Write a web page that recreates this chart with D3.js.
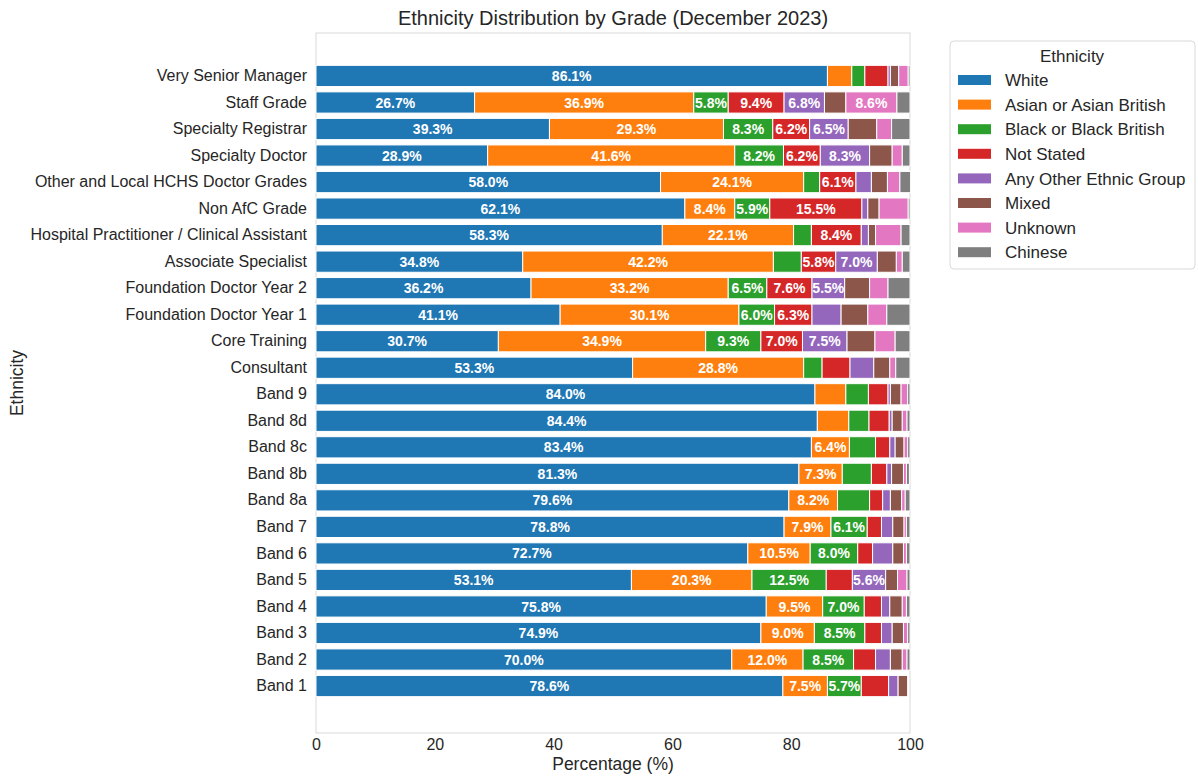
<!DOCTYPE html>
<html>
<head>
<meta charset="utf-8">
<script src="https://cdn.jsdelivr.net/npm/d3@7"></script>
<style>
  body { margin: 0; background: #fff; }
  text { font-family: "Liberation Sans", Arial, sans-serif; }
</style>
</head>
<body>
<div id="chart"></div>
<script>
// grades, top to bottom
var grades = ["Very Senior Manager", "Staff Grade", "Specialty Registrar", "Specialty Doctor",
  "Other and Local HCHS Doctor Grades", "Non AfC Grade", "Hospital Practitioner / Clinical Assistant",
  "Associate Specialist", "Foundation Doctor Year 2", "Foundation Doctor Year 1", "Core Training",
  "Consultant", "Band 9", "Band 8d", "Band 8c", "Band 8b", "Band 8a", "Band 7", "Band 6",
  "Band 5", "Band 4", "Band 3", "Band 2", "Band 1"];

var ethnicities = ["White", "Asian or Asian British", "Black or Black British", "Not Stated",
  "Any Other Ethnic Group", "Mixed", "Unknown", "Chinese"];

var colors = ["#1f77b4", "#ff7f0e", "#2ca02c", "#d62728", "#9467bd", "#8c564b", "#e377c2", "#7f7f7f"];

// percentages per ethnicity, in the same order as grades
var white    = [86.1, 26.7, 39.3, 28.9, 58.0, 62.1, 58.3, 34.8, 36.2, 41.1, 30.7, 53.3, 84.0, 84.4, 83.4, 81.3, 79.6, 78.8, 72.7, 53.1, 75.8, 74.9, 70.0, 78.6];
var asian    = [4.1, 36.9, 29.3, 41.6, 24.1, 8.4, 22.1, 42.2, 33.2, 30.1, 34.9, 28.8, 5.2, 5.3, 6.4, 7.3, 8.2, 7.9, 10.5, 20.3, 9.5, 9.0, 12.0, 7.5];
var black    = [2.2, 5.8, 8.3, 8.2, 2.7, 5.9, 3.0, 4.7, 6.5, 6.0, 9.3, 3.1, 3.8, 3.4, 4.4, 4.9, 5.4, 6.1, 8.0, 12.5, 7.0, 8.5, 8.5, 5.7];
var notStated= [3.9, 9.4, 6.2, 6.2, 6.1, 15.5, 8.4, 5.8, 7.6, 6.3, 7.0, 4.7, 3.3, 3.4, 2.4, 2.6, 2.2, 2.4, 2.5, 4.4, 2.9, 2.8, 3.7, 4.6];
var other    = [0.4, 6.8, 6.5, 8.3, 2.6, 1.0, 1.2, 7.0, 5.5, 4.9, 7.5, 4.0, 0.4, 0.5, 0.9, 0.8, 1.3, 1.9, 3.4, 5.6, 1.4, 1.8, 2.5, 1.6];
var mixed    = [1.4, 3.6, 4.8, 3.8, 2.7, 1.9, 1.2, 3.2, 4.2, 4.5, 4.7, 2.7, 1.8, 1.7, 1.5, 2.0, 1.9, 1.9, 1.8, 2.0, 2.1, 1.9, 2.0, 1.6];
var unknown  = [1.6, 8.6, 2.5, 1.7, 2.1, 4.9, 4.3, 1.0, 3.1, 3.2, 3.4, 1.0, 1.1, 0.8, 0.6, 0.5, 0.6, 0.4, 0.5, 1.6, 0.7, 0.7, 0.8, 0.0];
var chinese  = [0.3, 2.2, 3.1, 1.3, 1.8, 0.3, 1.5, 1.3, 3.7, 3.9, 2.5, 2.4, 0.4, 0.5, 0.4, 0.5, 0.8, 0.6, 0.6, 0.5, 0.6, 0.4, 0.5, 0.0];

var series = [white, asian, black, notStated, other, mixed, unknown, chinese];

var W = 1198, H = 776;
var margin = {top: 33, right: 288, bottom: 43, left: 316};
var plotW = W - margin.left - margin.right,
    plotH = H - margin.top - margin.bottom;

var svg = d3.select("#chart").append("svg")
    .attr("width", W).attr("height", H);

var g = svg.append("g")
    .attr("transform", "translate(" + margin.left + "," + margin.top + ")");

var x = d3.scaleLinear().domain([0, 100]).range([0, plotW]);
var y = d3.scaleBand().domain(grades)
    .range([29.7, 666.3]).paddingInner(0.2).paddingOuter(0.1);

// stacked rows
var rows = grades.map(function(gr, i) {
  var row = {grade: gr};
  ethnicities.forEach(function(e, k) { row[e] = series[k][i]; });
  return row;
});
var stacked = d3.stack().keys(ethnicities)(rows);

// frame
g.append("rect")
    .attr("width", plotW).attr("height", plotH)
    .attr("fill", "none").attr("stroke", "#d9d9d9").attr("stroke-width", 1);

var layer = g.selectAll("g.layer")
    .data(stacked)
  .enter().append("g")
    .attr("class", "layer")
    .attr("fill", function(d, k) { return colors[k]; });

layer.selectAll("rect")
    .data(function(d) { return d; })
  .enter().append("rect")
    .attr("x", function(d) { return x(d[0]); })
    .attr("y", function(d) { return y(d.data.grade); })
    .attr("width", function(d) { return Math.max(0, x(d[1]) - x(d[0])); })
    .attr("height", y.bandwidth())
    .attr("stroke", "#fff").attr("stroke-width", 1);

// value labels on the larger segments
layer.selectAll("text")
    .data(function(d) { return d.filter(function(s) { return s[1] - s[0] >= 5.45; }); })
  .enter().append("text")
    .attr("x", function(d) { return x((d[0] + d[1]) / 2); })
    .attr("y", function(d) { return y(d.data.grade) + y.bandwidth() / 2; })
    .attr("dy", "0.36em")
    .attr("text-anchor", "middle")
    .attr("fill", "#fff")
    .attr("font-weight", "bold")
    .attr("font-size", "14px")
    .text(function(d) { return (d[1] - d[0]).toFixed(1) + "%"; });

// axes
var xAxis = g.append("g")
    .attr("transform", "translate(0," + plotH + ")")
    .call(d3.axisBottom(x).tickValues([0, 20, 40, 60, 80, 100]).tickSize(0).tickPadding(6));
var yAxis = g.append("g")
    .call(d3.axisLeft(y).tickSize(0).tickPadding(9));
[xAxis, yAxis].forEach(function(a) {
  a.select(".domain").remove();
  a.selectAll("text").attr("font-size", "16px").attr("fill", "#262626")
    .style("font-family", "'Liberation Sans', Arial, sans-serif");
});

svg.append("text")
    .attr("x", margin.left + plotW / 2).attr("y", 25)
    .attr("text-anchor", "middle").attr("font-size", "20px").attr("fill", "#262626")
    .text("Ethnicity Distribution by Grade (December 2023)");

svg.append("text")
    .attr("x", margin.left + plotW / 2).attr("y", 770)
    .attr("text-anchor", "middle").attr("font-size", "17.5px").attr("fill", "#262626")
    .text("Percentage (%)");

svg.append("text")
    .attr("transform", "translate(23," + (margin.top + plotH / 2) + ") rotate(-90)")
    .attr("text-anchor", "middle").attr("font-size", "17.5px").attr("fill", "#262626")
    .text("Ethnicity");

// legend
var legend = svg.append("g").attr("transform", "translate(950,41)");
legend.append("rect")
    .attr("width", 245).attr("height", 228).attr("rx", 4)
    .attr("fill", "#fff").attr("stroke", "#d9d9d9");
legend.append("text")
    .attr("x", 122).attr("y", 21)
    .attr("text-anchor", "middle").attr("font-size", "17px").attr("fill", "#262626")
    .text("Ethnicity");
var item = legend.selectAll("g.item")
    .data(ethnicities)
  .enter().append("g")
    .attr("class", "item")
    .attr("transform", function(d, k) { return "translate(8," + (39 + k * 24.6) + ")"; });
item.append("rect")
    .attr("width", 33).attr("height", 10).attr("y", -5)
    .attr("fill", function(d, k) { return colors[k]; });
item.append("text")
    .attr("x", 47).attr("dy", "0.36em")
    .attr("font-size", "17px").attr("fill", "#262626")
    .text(function(d) { return d; });
</script>
</body>
</html>
